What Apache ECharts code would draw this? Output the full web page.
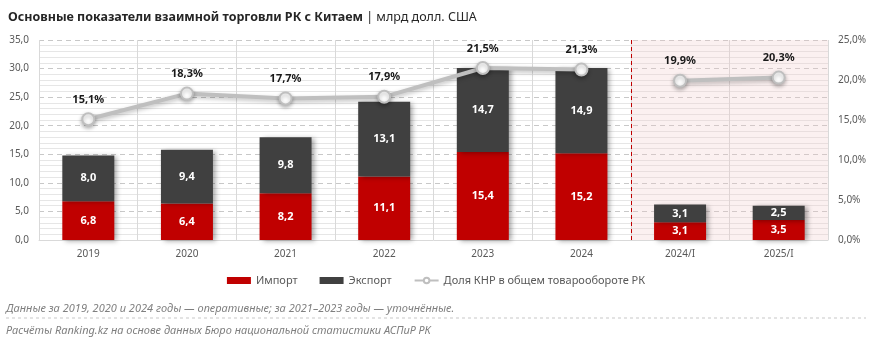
<!DOCTYPE html>
<html><head><meta charset="utf-8">
<script src="https://cdn.jsdelivr.net/npm/echarts@6/dist/echarts.min.js"></script>
<style>html,body{margin:0;padding:0;background:#fff}#c{width:872px;height:345px}</style>
</head><body><div id="c"></div>
<script>
const categories = ['2019','2020','2021','2022','2023','2024','2024/I','2025/I'];
const importVals = [6.8, 6.4, 8.2, 11.1, 15.4, 15.2, 3.1, 3.5];
const exportVals = [8.0, 9.4, 9.8, 13.1, 14.7, 14.9, 3.1, 2.5];
const shareAnnual = [15.1, 18.3, 17.7, 17.9, 21.5, 21.3, null, null];
const shareQuarter = [null, null, null, null, null, null, 19.9, 20.3];
const leftTicks = [0, 35, 5];
const rightTicks = [0, 25, 5];
const FONT = '"Noto Sans", "Open Sans", sans-serif';
const fmt = v => v.toFixed(1).replace('.', ',');

const chart = echarts.init(document.getElementById('c'), null, {renderer: 'canvas'});
const barShadow = {shadowColor: 'rgba(0,0,0,0.35)', shadowBlur: 5, shadowOffsetX: 3, shadowOffsetY: 1};
const lineSeries = (data) => ({
  type: 'line', yAxisIndex: 1, data: data, connectNulls: false,
  symbol: 'circle', symbolSize: 12, z: 5,
  lineStyle: {color: '#bfbfbf', width: 4, shadowColor: 'rgba(0,0,0,0.25)', shadowBlur: 4, shadowOffsetY: 2},
  itemStyle: {color: '#ffffff', borderColor: '#bfbfbf', borderWidth: 2, shadowColor: 'rgba(0,0,0,0.3)', shadowBlur: 4, shadowOffsetY: 2},
  label: {show: true, position: 'top', distance: 7, fontFamily: FONT, fontSize: 11, fontWeight: 'bold', color: '#1a1a1a',
    formatter: p => fmt(p.value) + '%'}
});

chart.setOption({
  animation: false,
  textStyle: {fontFamily: FONT},
  title: {
    text: '{b|Основные показатели взаимной торговли РК с Китаем}{n| | млрд долл. США}',
    left: 3, top: 6,
    textStyle: {fontWeight: 'normal', rich: {
      b: {fontFamily: FONT, fontSize: 12.5, fontWeight: 'bold', color: '#262626'},
      n: {fontFamily: FONT, fontSize: 12.5, fontWeight: 'normal', color: '#262626'}
    }}
  },
  legend: {
    bottom: 54, left: 'center', itemGap: 22, itemWidth: 24, itemHeight: 7,
    textStyle: {fontFamily: FONT, fontSize: 11, color: '#595959'},
    data: [
      {name: 'Импорт', icon: 'rect'},
      {name: 'Экспорт', icon: 'rect'},
      {name: 'Доля КНР в общем товарообороте РК'}
    ]
  },
  grid: {left: 39, right: 44, top: 40, bottom: 105},
  xAxis: [{
    type: 'category', data: categories,
    axisLine: {show: true, lineStyle: {color: '#d9d9d9'}},
    axisTick: {show: false},
    axisLabel: {fontFamily: FONT, fontSize: 10, color: '#595959', margin: 9},
    splitLine: {show: true, lineStyle: {color: '#d9d9d9', width: 1}}
  }, {
    type: 'value', min: 0, max: 8, show: false
  }],
  yAxis: [{
    type: 'value', min: leftTicks[0], max: leftTicks[1], interval: leftTicks[2],
    axisLine: {show: false}, axisTick: {show: false},
    axisLabel: {fontFamily: FONT, fontSize: 10, color: '#595959', margin: 10, formatter: v => fmt(v)},
    splitLine: {show: true, lineStyle: {color: '#c8c8c8', type: [5, 4], width: 1}},
    minorTick: {show: false, splitNumber: 5},
    minorSplitLine: {show: true, lineStyle: {color: '#e6e6e6', width: 1}}
  }, {
    type: 'value', min: rightTicks[0], max: rightTicks[1], interval: rightTicks[2],
    axisLine: {show: false}, axisTick: {show: false},
    axisLabel: {fontFamily: FONT, fontSize: 10, color: '#595959', margin: 10, formatter: v => fmt(v) + '%'},
    splitLine: {show: false}
  }],
  series: [
    {
      name: 'Импорт', type: 'bar', stack: 't', data: importVals, barWidth: 52, z: 3,
      itemStyle: Object.assign({color: '#c00000'}, barShadow),
      label: {show: true, position: 'inside', fontFamily: FONT, fontSize: 11, fontWeight: 'bold', color: '#ffffff', formatter: p => fmt(p.value)}
    },
    {
      name: 'Экспорт', type: 'bar', stack: 't', data: exportVals, barWidth: 52, z: 3,
      itemStyle: Object.assign({color: '#404040'}, barShadow),
      label: {show: true, position: 'inside', fontFamily: FONT, fontSize: 11, fontWeight: 'bold', color: '#ffffff', formatter: p => fmt(p.value)}
    },
    Object.assign(lineSeries(shareAnnual), {name: 'Доля КНР в общем товарообороте РК'}),
    Object.assign(lineSeries(shareQuarter), {name: 'Доля КНР в общем товарообороте РК'}),
    {
      type: 'line', xAxisIndex: 1, yAxisIndex: 0, data: [], silent: true,
      markArea: {silent: true, itemStyle: {color: 'rgba(240,200,200,0.28)'}, data: [[{xAxis: 6}, {xAxis: 8}]]},
      markLine: {silent: true, symbol: 'none', label: {show: false},
        lineStyle: {color: '#c00000', type: [4, 3], width: 1}, data: [{xAxis: 6}]}
    }
  ],
  graphic: [
    {type: 'text', left: 6, top: 303, style: {text: 'Данные за 2019, 2020 и 2024 годы — оперативные; за 2021–2023 годы — уточнённые.', fontFamily: FONT, fontSize: 11, fontStyle: 'italic', fill: '#7f7f7f'}},
    {type: 'line', shape: {x1: 6, y1: 318, x2: 866, y2: 318}, style: {stroke: '#c8c8c8', lineDash: [3, 3], lineWidth: 1}},
    {type: 'text', left: 6, top: 325, style: {text: 'Расчёты Ranking.kz на основе данных Бюро национальной статистики АСПиР РК', fontFamily: FONT, fontSize: 11, fontStyle: 'italic', fill: '#7f7f7f'}}
  ]
});
</script></body></html>
